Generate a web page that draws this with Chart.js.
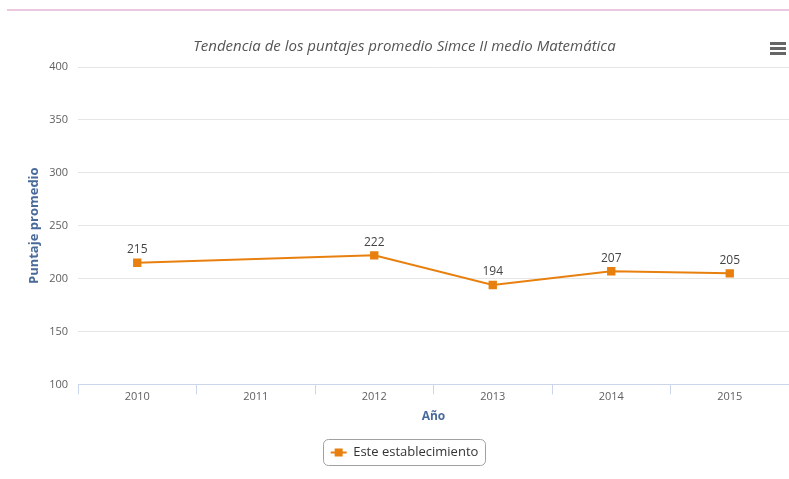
<!DOCTYPE html>
<html>
<head>
<meta charset="utf-8">
<script src="https://cdn.jsdelivr.net/npm/chart.js@4/dist/chart.umd.min.js"></script>
<style>
    body { margin: 0; background: #fff; }
    #wrap { position: relative; width: 789px; height: 479px; }
    #topline { position: absolute; left: 7px; right: 0; top: 9px; height: 2px; background: #ecc8e0; }
    #menu { position: absolute; left: 770px; top: 42px; width: 16px; }
    #menu span { display: block; height: 3px; background: #666; margin-bottom: 2px; }
</style>
</head>
<body>
<div id="wrap">
    <canvas id="chart" width="789" height="479"></canvas>
    <div id="topline"></div>
    <div id="menu"><span></span><span></span><span></span></div>
</div>
<script>
var years = ["2010", "2011", "2012", "2013", "2014", "2015"];
var puntajes = [215, null, 222, 194, 207, 205];
var yTicks = [100, 150, 200, 250, 300, 350, 400];

var ORANGE = "#e8800f";
var FONT = "'Open Sans', 'Liberation Sans', sans-serif";

// labels over each point
var valueLabels = {
    id: "valueLabels",
    afterDatasetsDraw: function(chart)
    {
        var ctx = chart.ctx;
        var meta = chart.getDatasetMeta(0);
        ctx.save();
        ctx.font = "12px " + FONT;
        ctx.fillStyle = "#444";
        ctx.textAlign = "center";
        ctx.textBaseline = "bottom";
        meta.data.forEach(function(pt, i){
            if (puntajes[i] === null) return;
            ctx.fillText(String(puntajes[i]), pt.x, pt.y - 7);
        });
        ctx.restore();
    }
};

// rounded border + line/square marker for the legend
var legendBox = {
    id: "legendBox",
    afterDraw: function(chart)
    {
        var lg = chart.legend;
        if (!lg || !lg.legendHitBoxes.length) return;
        var hb = lg.legendHitBoxes[0];
        var ctx = chart.ctx;
        ctx.save();
        ctx.strokeStyle = "#a0a0a0";
        ctx.lineWidth = 1;
        var x = Math.round(hb.left - 8) + 0.5, y = Math.round(hb.top - 7) + 0.5;
        ctx.beginPath();
        ctx.roundRect(x, y, Math.round(hb.width + 14), Math.round(hb.height + 13), 5);
        ctx.stroke();
        var cy = hb.top + hb.height / 2;
        ctx.strokeStyle = ORANGE;
        ctx.lineWidth = 2;
        ctx.beginPath();
        ctx.moveTo(hb.left, cy);
        ctx.lineTo(hb.left + 16, cy);
        ctx.stroke();
        ctx.fillStyle = ORANGE;
        ctx.fillRect(hb.left + 8 - 4, cy - 4, 8, 8);
        ctx.restore();
    }
};

new Chart(document.getElementById("chart"), {
    type: "line",
    data: {
        labels: years,
        datasets: [{
            label: "Este establecimiento",
            data: puntajes,
            borderColor: ORANGE,
            backgroundColor: ORANGE,
            borderWidth: 2,
            pointStyle: "rect",
            pointRadius: 4.5,
            pointHoverRadius: 4.5,
            spanGaps: true,
            tension: 0
        }]
    },
    options: {
        responsive: false,
        animation: false,
        layout: { autoPadding: false, padding: { left: 20, right: 0, top: 0, bottom: 10 } },
        plugins: {
            title: {
                display: true,
                text: "Tendencia de los puntajes promedio Simce II medio Matemática",
                color: "#555",
                font: { family: FONT, size: 15, style: "italic", weight: "normal" },
                padding: { top: 38, bottom: 11 }
            },
            legend: {
                position: "bottom",
                labels: {
                    boxWidth: 16,
                    boxHeight: 8,
                    padding: 10,
                    color: "#333",
                    font: { family: FONT, size: 13 },
                    generateLabels: function(chart){
                        var items = Chart.defaults.plugins.legend.labels.generateLabels(chart);
                        items.forEach(function(it){
                            it.fillStyle = "rgba(0,0,0,0)";
                            it.strokeStyle = "rgba(0,0,0,0)";
                            it.lineWidth = 0;
                        });
                        return items;
                    }
                }
            },
            tooltip: { enabled: false }
        },
        scales: {
            x: {
                offset: true,
                afterFit: function(scale){ scale.paddingRight = 0; scale.paddingLeft = 0; },
                grid: {
                    offset: true,
                    drawOnChartArea: false,
                    drawTicks: true,
                    tickLength: 10,
                    color: "#ccd6eb"
                },
                border: { display: true, color: "#ccd6eb" },
                ticks: { color: "#606060", padding: -4, maxRotation: 0, font: { family: FONT, size: 11 } },
                title: {
                    display: true,
                    text: "Año",
                    color: "#4a6a99",
                    font: { family: FONT, size: 12, weight: "bold" },
                    padding: { top: 10, bottom: 12 }
                }
            },
            y: {
                min: 100,
                max: 400,
                afterBuildTicks: function(scale){
                    scale.ticks = yTicks.map(function(v){ return { value: v }; });
                },
                afterFit: function(scale){ scale.width = 58; },
                grid: { color: "#e6e6e6", drawTicks: false },
                border: { display: false },
                ticks: { color: "#606060", padding: 10, font: { family: FONT, size: 11 } },
                title: {
                    display: true,
                    text: "Puntaje promedio",
                    color: "#4a6a99",
                    font: { family: FONT, size: 13, weight: "bold" },
                    padding: { top: 6, bottom: 0 }
                }
            }
        }
    },
    plugins: [valueLabels, legendBox]
});
</script>
</body>
</html>
